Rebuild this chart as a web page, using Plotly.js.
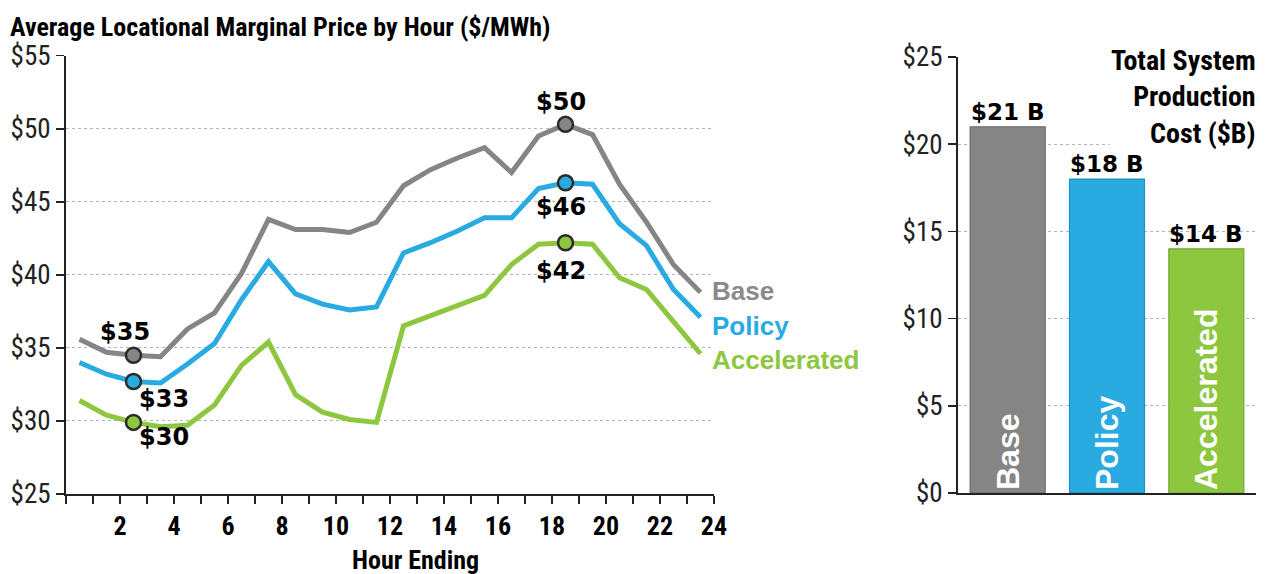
<!DOCTYPE html>
<html>
<head>
<meta charset="utf-8">
<script src="https://cdn.plot.ly/plotly-3.0.1.min.js"></script>
<style>
html,body{margin:0;padding:0;background:#fff;}
#chart{width:1268px;height:574px;}
</style>
</head>
<body>
<div id="chart"></div>
<script>
// ---- Data ----
const hours = [0.5,1.5,2.5,3.5,4.5,5.5,6.5,7.5,8.5,9.5,10.5,11.5,12.5,13.5,14.5,15.5,16.5,17.5,18.5,19.5,20.5,21.5,22.5,23.5];
const baseLMP   = [35.6,34.7,34.5,34.4,36.3,37.4,40.1,43.8,43.1,43.1,42.9,43.6,46.1,47.2,48.0,48.7,47.0,49.5,50.3,49.6,46.2,43.6,40.7,38.8];
const policyLMP = [34.0,33.2,32.7,32.6,33.9,35.3,38.3,40.9,38.7,38.0,37.6,37.8,41.5,42.2,43.0,43.9,43.9,45.9,46.3,46.2,43.5,42.0,39.0,37.1];
const accelLMP  = [31.4,30.4,29.9,29.6,29.7,31.1,33.8,35.4,31.8,30.6,30.1,29.9,36.5,37.2,37.9,38.6,40.7,42.1,42.2,42.1,39.8,39.0,36.8,34.6];
const seriesNames = ["Base","Policy","Accelerated"];
const highlightHours = [2.5, 18.5];
const baseHighlightLabels = ["$35","$50"];
const policyHighlightLabels = ["$33","$46"];
const accelHighlightLabels = ["$30","$42"];
const xTickVals = [0,1,2,3,4,5,6,7,8,9,10,11,12,13,14,15,16,17,18,19,20,21,22,23,24];
const xTickText = ["","","2","","4","","6","","8","","10","","12","","14","","16","","18","","20","","22","","24"];
const yTickVals = [25,30,35,40,45,50,55];
const yTickText = ["$25","$30","$35","$40","$45","$50","$55"];

const costCategories = ["Base","Policy","Accelerated"];
const costValues = [21,18,14];
const costLabels = ["$21 B","$18 B","$14 B"];
const costTickVals = [0,5,10,15,20,25];
const costTickText = ["$0","$5","$10","$15","$20","$25"];

// ---- Styles ----
const colors = ["#858585","#29abe2","#8dc63f"];
const labelColors = ["#8a8a8a","#29abe2","#8dc63f"];
const NARROW = "'Liberation Sans Narrow','Arial Narrow','Roboto Condensed',sans-serif";
const BOLD = "'Liberation Sans',Arial,sans-serif";
const HEAVY = "'DejaVu Sans',sans-serif";

const seriesData = [baseLMP, policyLMP, accelLMP];
const hlLabels = [baseHighlightLabels, policyHighlightLabels, accelHighlightLabels];

const traces = [];
seriesData.forEach((s,i)=>{
  traces.push({
    x: hours, y: s, type:"scatter", mode:"lines",
    line:{color:colors[i], width:5}, xaxis:"x", yaxis:"y",
    hoverinfo:"skip", showlegend:false
  });
});
seriesData.forEach((s,i)=>{
  const ys = highlightHours.map(h => s[hours.indexOf(h)]);
  traces.push({
    x: highlightHours, y: ys, type:"scatter", mode:"markers",
    marker:{color:colors[i], size:15, line:{color:"#2b2b2b", width:2.5}},
    xaxis:"x", yaxis:"y", hoverinfo:"skip", showlegend:false
  });
});

traces.push({
  x: costCategories, y: costValues, type:"bar",
  marker:{color:colors, line:{color:["#6a6a6a","#1f8fc0","#74a832"], width:1.2}},
  text: costCategories, textposition:"inside", insidetextanchor:"start",
  textangle:-90, textfont:{family:BOLD, size:32, color:"#ffffff", weight:"bold"},
  constraintext:"none",
  xaxis:"x2", yaxis:"y2", hoverinfo:"skip", showlegend:false
});

const annotations = [];
// highlight value labels (offsets in px: right, down)
const hlOffsets = [
  [[-9,-23],[-5,-22]],
  [[30,17],[-5,24]],
  [[30,15],[-5,28]]
];
seriesData.forEach((s,i)=>{
  highlightHours.forEach((h,j)=>{
    annotations.push({
      x:h, y:s[hours.indexOf(h)], xref:"x", yref:"y",
      text:hlLabels[i][j], showarrow:false,
      xshift:hlOffsets[i][j][0], yshift:-hlOffsets[i][j][1],
      font:{family:HEAVY, size:24, color:"#000", weight:"bold"}
    });
  });
});
// series end labels (vertical shift, px up)
const endShift = [1,-9,-6];
seriesData.forEach((s,i)=>{
  annotations.push({
    x:hours[hours.length-1], y:s[s.length-1], xref:"x", yref:"y",
    text:seriesNames[i], showarrow:false, xanchor:"left",
    xshift:9, yshift:endShift[i],
    font:{family:BOLD, size:26, color:labelColors[i], weight:"bold"}
  });
});
// bar value labels
costCategories.forEach((c,i)=>{
  annotations.push({
    x:c, y:costValues[i], xref:"x2", yref:"y2",
    text:costLabels[i], showarrow:false, yanchor:"bottom", yshift:0,
    font:{family:HEAVY, size:23, color:"#000", weight:"bold"}
  });
});
// titles
annotations.push({
  x:8/1268, y:1-27/574, xref:"paper", yref:"paper", xanchor:"left", yanchor:"middle",
  text:"Average Locational Marginal Price by Hour ($/MWh)", showarrow:false,
  font:{family:NARROW, size:26, color:"#000", weight:"bold"}
});
annotations.push({
  x:415/1268, y:1-560/574, xref:"paper", yref:"paper", xanchor:"center", yanchor:"middle",
  text:"Hour Ending", showarrow:false,
  font:{family:NARROW, size:26, color:"#000", weight:"bold"}
});
annotations.push({
  x:1258/1268, y:1-42/574, xref:"paper", yref:"paper", xanchor:"right", yanchor:"top",
  align:"right", bgcolor:"#ffffff",
  text:"Total System<br>Production<br>Cost ($B)", showarrow:false,
  font:{family:NARROW, size:28, color:"#000", weight:"bold"}
});

const axisCommon = {
  showline:true, linecolor:"#222", linewidth:2,
  ticks:"outside", ticklen:8, tickwidth:1.5, tickcolor:"#222",
  zeroline:false, fixedrange:true
};

const layout = {
  width:1268, height:574,
  margin:{l:0,r:0,t:0,b:0},
  paper_bgcolor:"#fff", plot_bgcolor:"rgba(0,0,0,0)",
  showlegend:false, hovermode:false, bargap:0.245,
  xaxis: Object.assign({}, axisCommon, {
    domain:[66/1268, 714/1268], range:[0,24], anchor:"y",
    tickmode:"array", tickvals:xTickVals, ticktext:xTickText,
    showgrid:false,
    tickfont:{family:NARROW, size:26, color:"#000", weight:"bold"}
  }),
  yaxis: Object.assign({}, axisCommon, {
    domain:[1-494/574, 1-55.7/574], range:[25,55], anchor:"x",
    tickmode:"array", tickvals:yTickVals, ticktext:yTickText,
    showgrid:true, gridcolor:"#b5b5b5", griddash:"dot", gridwidth:1,
    tickfont:{family:NARROW, size:27, color:"#222"}
  }),
  xaxis2: Object.assign({}, axisCommon, {
    domain:[958/1268, 1256/1268], range:[-0.5,2.5], anchor:"y2",
    type:"category", ticks:"", showticklabels:false, showgrid:false
  }),
  yaxis2: Object.assign({}, axisCommon, {
    domain:[1-493/574, 1-57/574], range:[0,25], anchor:"x2",
    tickmode:"array", tickvals:costTickVals, ticktext:costTickText,
    showgrid:true, gridcolor:"#b5b5b5", griddash:"dot", gridwidth:1,
    tickfont:{family:NARROW, size:27, color:"#222"}
  }),
  annotations: annotations
};

Plotly.newPlot("chart", traces, layout, {staticPlot:true, displayModeBar:false});
</script>
</body>
</html>
